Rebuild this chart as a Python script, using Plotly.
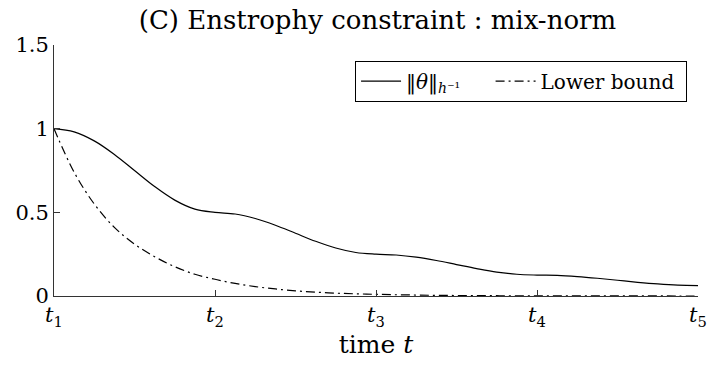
import plotly.graph_objects as go

# sample times (t1..t5 mapped to 1..5), values read at steps of 1/8
t = [1 + i / 8 for i in range(33)]

theta_norm = [
    1.0, 0.981, 0.927, 0.846, 0.75, 0.654, 0.573, 0.519,
    0.5, 0.49, 0.463, 0.423, 0.375, 0.327, 0.287, 0.26,
    0.25, 0.245, 0.232, 0.212, 0.188, 0.164, 0.143, 0.13,
    0.125, 0.123, 0.116, 0.106, 0.094, 0.082, 0.072, 0.065,
    0.0625,
]

lower_bound = [
    1.0, 0.74, 0.55, 0.41, 0.31, 0.235, 0.175, 0.13,
    0.1, 0.075, 0.056, 0.042, 0.031, 0.023, 0.017, 0.013,
    0.01, 0.0075, 0.0056, 0.004, 0.003, 0.0023, 0.0017, 0.0013,
    0.001, 0.0007, 0.0005, 0.0004, 0.0003, 0.0002, 0.00015, 0.0001,
    0.0001,
]

x_tick_vals = [1, 2, 3, 4, 5]
x_tick_text = ["<i>t</i><sub>1</sub>", "<i>t</i><sub>2</sub>", "<i>t</i><sub>3</sub>",
               "<i>t</i><sub>4</sub>", "<i>t</i><sub>5</sub>"]
y_tick_vals = [0, 0.5, 1, 1.5]
y_tick_text = ["0", "0.5", "1", "1.5"]

FONT = "DejaVu Serif"

fig = go.Figure()
fig.add_trace(go.Scatter(
    x=t, y=theta_norm, mode="lines", line_shape="spline",
    line=dict(color="black", width=1.2),
    name="‖<i>θ</i>‖<sub><i>h</i>⁻¹</sub>\u00a0\u00a0\u00a0\u00a0",
))
fig.add_trace(go.Scatter(
    x=t, y=lower_bound, mode="lines", line_shape="spline",
    line=dict(color="black", width=1.2, dash="9px,4px,2px,4px"),
    name="Lower bound\u00a0",
))

fig.update_layout(
    width=719, height=367,
    margin=dict(l=54, r=13, t=45, b=71),
    paper_bgcolor="white", plot_bgcolor="white",
    font=dict(family=FONT, size=21, color="black"),
    title=dict(text="(C) Enstrophy constraint : mix-norm", x=0.525, xanchor="center",
               y=0.947, yanchor="middle", font=dict(size=26)),
    showlegend=True,
    legend=dict(orientation="h", x=0.983, xanchor="right", y=0.938, yanchor="top",
                bgcolor="white", bordercolor="black", borderwidth=1,
                font=dict(size=20), itemwidth=40, tracegroupgap=0),
)
fig.update_xaxes(
    range=[1, 5], tickvals=x_tick_vals, ticktext=x_tick_text,
    ticks="inside", ticklen=6, tickcolor="#333", showline=True, linecolor="#333",
    linewidth=1, showgrid=False, zeroline=False,
    title=dict(text="time <i>t</i>", font=dict(size=25), standoff=5),
)
fig.update_yaxes(
    range=[0, 1.5], tickvals=y_tick_vals, ticktext=y_tick_text,
    ticks="inside", ticklen=6, tickcolor="#333", showline=True, linecolor="#333",
    linewidth=1, showgrid=False, zeroline=False,
)

fig.write_html("out.html")
